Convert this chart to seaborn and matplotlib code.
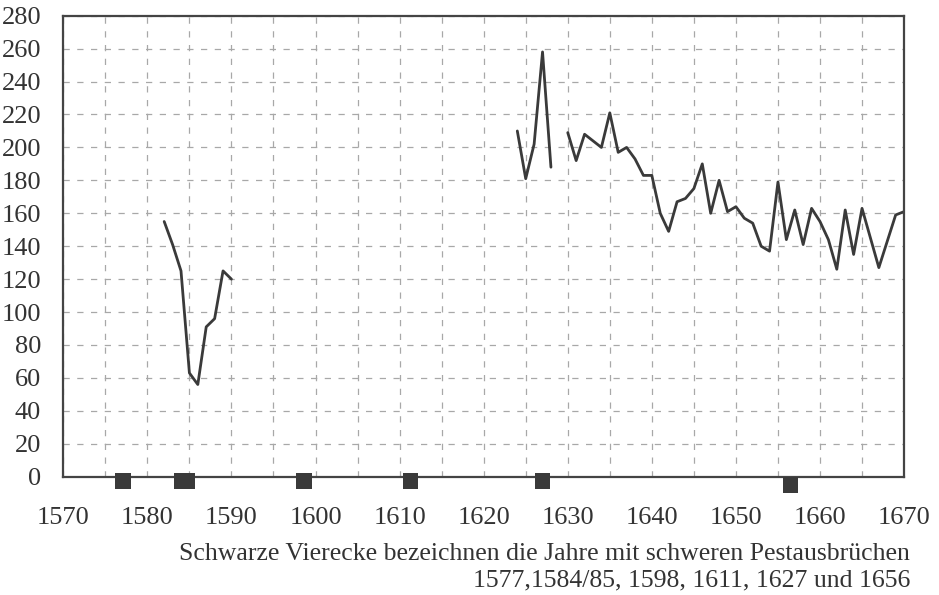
import pandas as pd
import matplotlib
matplotlib.use('Agg')
import matplotlib.pyplot as plt
import seaborn as sns

# series pieces (years with gaps between them)
years_a = [1582, 1583, 1584, 1585, 1586, 1587, 1588, 1589, 1590]
values_a = [155, 141, 125, 63, 56, 91, 96, 125, 120]

years_b = [1624, 1625, 1626, 1627, 1628]
values_b = [210, 181, 202, 258, 188]

years_c = list(range(1630, 1671))
values_c = [209, 192, 208, 204, 200, 221, 197, 200, 193, 183,
            183, 160, 149, 167, 169, 175, 190, 160, 180, 161,
            164, 157, 154, 140, 137, 179, 144, 162, 141, 163,
            155, 144, 126, 162, 135, 163, 145, 127, 143, 159, 161]

# plague years, drawn as black squares under the zero line
plague_x = [1577.1, 1584.1, 1584.7, 1598.6, 1611.3, 1627.0, 1656.5]
plague_y = [-2.6, -2.6, -2.6, -2.6, -2.6, -2.6, -5]

caption_1 = 'Schwarze Vierecke bezeichnen die Jahre mit schweren Pestausbrüchen'
caption_2 = '1577,1584/85, 1598, 1611, 1627 und 1656'

df = pd.concat([
    pd.DataFrame({'year': years_a, 'value': values_a, 'seg': 'a'}),
    pd.DataFrame({'year': years_b, 'value': values_b, 'seg': 'b'}),
    pd.DataFrame({'year': years_c, 'value': values_c, 'seg': 'c'}),
])
plague = pd.DataFrame({'year': plague_x, 'y': plague_y})

sns.set_style('white')
plt.rcParams['font.family'] = ['Liberation Serif', 'DejaVu Serif']

fig = plt.figure(figsize=(9.39, 5.95), dpi=100)
ax = fig.add_axes([0.0674, 0.1988, 0.8954, 0.7748])

ink = '#3a3a3a'
grid_col = '#a8a8a8'

sns.lineplot(data=df, x='year', y='value', units='seg', estimator=None,
             color=ink, linewidth=2.0, ax=ax)
sns.scatterplot(data=plague, x='year', y='y', marker='s', s=125, color=ink,
                edgecolor='none', clip_on=False, zorder=5, ax=ax)

ax.set_xlim(1570, 1670)
ax.set_ylim(0, 280)
ax.set_xticks(range(1570, 1671, 5))
ax.set_xticklabels([str(y) if y % 10 == 0 else '' for y in range(1570, 1671, 5)])
ax.set_yticks(range(0, 281, 20))
ax.grid(True, color=grid_col, linestyle=(0, (5, 6)), linewidth=0.9)
ax.tick_params(axis='x', direction='out', length=6, width=0.9, color=grid_col,
               pad=16, labelsize=19, labelcolor='#333333')
ax.tick_params(axis='y', direction='out', length=7, width=0.9, color=grid_col,
               pad=9, labelsize=19, labelcolor='#333333')
for sp in ax.spines.values():
    sp.set_color('#444444')
    sp.set_linewidth(1.6)
ax.set_xlabel('')
ax.set_ylabel('')

fig.text(0.969, 0.069, caption_1, ha='right', va='center', fontsize=18.5, color='#333333')
fig.text(0.969, 0.024, caption_2, ha='right', va='center', fontsize=18.5, color='#333333')

fig.savefig('out.png', dpi=100)
